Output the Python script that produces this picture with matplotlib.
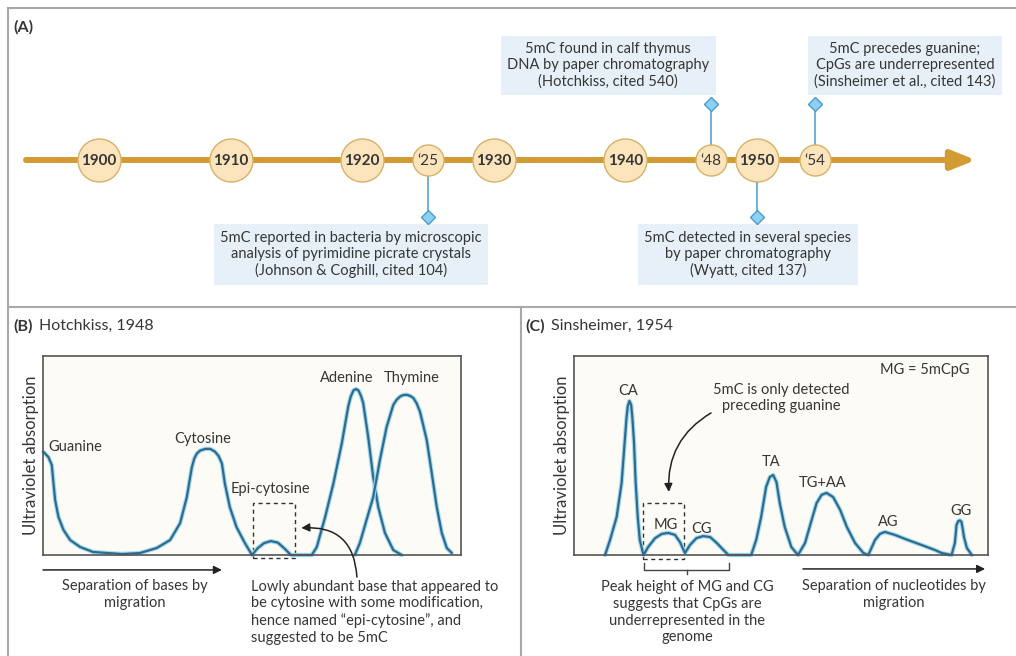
import matplotlib
matplotlib.use("Agg")
import matplotlib.pyplot as plt
from matplotlib.patches import Rectangle

plt.rcParams['font.family'] = ['Lato', 'DejaVu Sans']

TXT = '#363636'
GOLD = '#D29B34'
CURVE = '#2C6C8E'
FS = 10.5

# ---- timeline data ----
decades = [1900, 1910, 1920, 1930, 1940, 1950]
event_years = [1925, 1948, 1950, 1954]
event_tags = ['\u201825', '\u201848', None, '\u201854']
event_text = [
    "5mC reported in bacteria by microscopic\nanalysis of pyrimidine picrate crystals\n(Johnson & Coghill, cited 104)",
    "5mC found in calf thymus\nDNA by paper chromatography\n(Hotchkiss, cited 540)",
    "5mC detected in several species\nby paper chromatography\n(Wyatt, cited 137)",
    "5mC precedes guanine;\nCpGs are underrepresented\n(Sinsheimer et al., cited 143)",
]
event_below = [True, False, True, False]

# ---- (B) Hotchkiss 1948 chromatogram (relative units) ----
hot_x = [0.1, 1.3, 2.1, 2.5, 2.9, 3.7, 4.9, 6.5, 8.9, 12, 19, 23.2, 27.2, 30.4,
         32.8, 34.4, 35.6, 36.2, 36.8, 37.6, 38.8, 40.0, 41.1, 42.0, 42.8, 43.5,
         44.7, 46.3, 48.3, 50.0,
         51.4, 52.9, 54.5, 56.2, 57.9, 59.3, 64.3, 65.5, 67.5, 69.5, 71.5, 73.0,
         73.6, 74.3, 74.9, 75.5, 76.1, 76.6, 77.8, 79.0, 80.2, 81.8, 83.8, 85.8]
hot_y = [51.8, 49.2, 45.2, 36.2, 27.6, 19.1, 12.6, 7.5, 4, 1.5, 0.5, 1, 3.5, 7.5,
         16, 29, 44, 48.5, 51, 52.5, 53.3, 53.3, 52, 49.8, 46, 36,
         24, 14, 6, 0,
         3.5, 6.0, 7.0, 6.2, 3.0, 0, 0, 4, 19.1, 36.2, 56.3, 74.4,
         79.5, 82.8, 83.4, 82.6, 79.8, 76.4, 59.3, 39.2, 24.1, 11.1, 2.5, 0]
thy_x = [74.6, 75.8, 77.4, 79.0, 80.6, 82.2, 83.8, 84.6, 85.4, 86.2, 87.0, 87.8,
         88.6, 89.4, 90.2, 91.8, 93.0, 94.2, 95.4, 96.6, 97.8]
thy_y = [0, 6, 17.6, 29.1, 47.7, 64.3, 75.4, 78.0, 79.6, 80.4, 80.5, 80.0,
         78.9, 76.2, 71.9, 57.8, 41.2, 24.1, 11.1, 3.5, 1]
hot_names = ['Guanine', 'Cytosine', 'Epi-cytosine', 'Adenine', 'Thymine']

# ---- (C) Sinsheimer 1954 chromatogram ----
sin_x = [7.5, 8.7, 10.3, 11.5, 12.1, 12.7, 13.0, 13.4, 13.8, 14.1, 14.5, 14.9,
         15.4, 15.9, 16.6, 16.8, 17.9, 19.6, 21.2, 22.8, 24.4, 25.6, 26.8, 28.0,
         29.6, 31.2, 32.9, 34.5, 36.1, 37.3, 42.8, 44.0, 45.2, 46.4, 47.3, 48.1,
         48.9, 49.7, 50.9, 52.5, 54.1, 55.8, 57.4, 58.6, 59.8, 61.0, 62.6, 64.3,
         65.9, 67.9, 69.9, 71.1, 72.7, 73.9, 75.1, 77.5, 80.7, 84.0, 87.2, 88.8,
         91.2, 92.0, 92.4, 92.8, 93.2, 93.6, 93.9, 94.2, 94.9, 96.1]
sin_y = [0, 7.5, 19.1, 36.2, 52.8, 69.3, 75.0, 77.4, 75.5, 69.0, 56.3, 36.2,
         19.1, 7.5, 1.5, 0, 4, 8.5, 10.6, 11.1, 10.1, 6.5, 1, 5,
         8.5, 9.5, 9, 6, 2.5, 0, 0, 7.5, 19.1, 34.2, 39.2, 40.2,
         36.7, 26.1, 14.1, 4, 0, 6, 17.6, 26.1, 30.2, 31.2, 29.1, 22.6,
         14.1, 6, 1, 0, 7.5, 10.6, 11.6, 10.1, 7.5, 5, 2.5, 1,
         0, 6, 15.1, 17.0, 17.4, 16.6, 13, 9, 3.5, 0]
sin_names = ['CA', 'MG', 'CG', 'TA', 'TG+AA', 'AG', 'GG']

W, H = 1016, 656
fig = plt.figure(figsize=(W / 100, H / 100), dpi=100)

# frame / headings in pixel space
frame = fig.add_axes([0, 0, 1, 1])
frame.set_xlim(0, W)
frame.set_ylim(H, 0)
frame.axis('off')
fc = '#A8A8A8'
frame.plot([8, W], [8, 8], color=fc, lw=1.5)
frame.plot([8, 8], [8, H], color=fc, lw=1.5)
frame.plot([8, W], [307, 307], color=fc, lw=1.5)
frame.plot([521, 521], [307, H], color=fc, lw=1.5)
frame.text(13, 27, '(A)', fontsize=11.5, fontweight='bold', color=TXT, va='center')
frame.text(13, 326, '(B)', fontsize=11.5, fontweight='bold', color=TXT, va='center')
frame.text(39, 326, 'Hotchkiss, 1948', fontsize=11.5, color=TXT, va='center')
frame.text(525, 326, '(C)', fontsize=11.5, fontweight='bold', color=TXT, va='center')
frame.text(551, 326, 'Sinsheimer, 1954', fontsize=11.5, color=TXT, va='center')

# ---- (A) timeline, x in years ----
ppy = 13.16
y0 = 1900 - 99 / ppy
tl = fig.add_axes([0, 0, 1, 1])
tl.set_xlim(y0, y0 + W / ppy)
tl.set_ylim(H, 0)
tl.axis('off')
tl.patch.set_alpha(0)

tl.annotate('', xy=(y0 + 976 / ppy, 160), xytext=(y0 + 26 / ppy, 160),
            arrowprops=dict(arrowstyle='-|>,head_length=0.58,head_width=0.23',
                            color=GOLD, lw=4.3, mutation_scale=25,
                            shrinkA=0, shrinkB=0))

# tag nudges / box shifts are layout only (in years)
tag_nudge = [0, -1.5, 0, 0.4]
box_shift = [-5.85, -7.8, -0.7, 6.85]

tl.scatter(decades, [160] * len(decades), s=960, color='#FCE5BC',
           edgecolor='#D8B068', lw=1, zorder=3)
for d in decades:
    tl.text(d, 161, str(d), ha='center', va='center', fontsize=11,
            fontweight='bold', color=TXT, zorder=4)

for yr, tag, txt, below, dn, dbox in zip(event_years, event_tags, event_text,
                                         event_below, tag_nudge, box_shift):
    x = yr + dn
    r = 15.5 if tag else 21.5
    if tag:
        tl.scatter([x], [160], s=500, color='#FCE5BC', edgecolor='#D8B068',
                   lw=1, zorder=3)
        tl.text(x, 161, tag, ha='center', va='center', fontsize=11,
                color=TXT, zorder=4)
    sgn = 1 if below else -1
    dy = 217 if below else 104
    tl.plot([x, x], [160 + sgn * r, dy], color='#68A8D0', lw=1.3, zorder=2)
    tl.plot([x], [dy], marker='D', ms=7, mfc='#8ED0F0', mec='#4A9BD0',
            mew=1, zorder=4)
    by = 254.5 if below else 65.5
    tl.text(x + dbox, by, txt, ha='center', va='center', fontsize=FS,
            color=TXT, linespacing=1.2,
            bbox=dict(boxstyle='square,pad=0.45', fc='#E7F0F8', ec='none'))


def chrom_axes(left, width):
    ax = fig.add_axes([left / W, (H - 555) / H, width / W, 199 / H])
    ax.set_xlim(0, 100)
    ax.set_ylim(0, 100)
    ax.set_facecolor('#FDFBF5')
    ax.set_xticks([])
    ax.set_yticks([])
    for s in ax.spines.values():
        s.set_color('#555555')
        s.set_linewidth(1.2)
    ax.set_ylabel('Ultraviolet absorption', fontsize=12, color=TXT,
                  labelpad=3)
    return ax


def trace(ax, xs, ys):
    ax.plot(xs, ys, color='#A9D9EF', lw=3.2, solid_joinstyle='round',
            solid_capstyle='round', clip_on=False)
    ax.plot(xs, ys, color=CURVE, lw=1.6, solid_joinstyle='round',
            solid_capstyle='round', clip_on=False)


arrow_kw = dict(arrowstyle='-|>', color='#222222', lw=1.1, mutation_scale=12,
                shrinkA=0, shrinkB=0)

# ---- (B) ----
axb = chrom_axes(43, 418)
trace(axb, hot_x, hot_y)
trace(axb, thy_x, thy_y)
hb_pos = [(1.2, 54.3, 'left'), (38.3, 58.3, 'center'), (54.5, 33.2, 'center'),
          (72.7, 88.9, 'center'), (88.3, 88.9, 'center')]
for name, (x, y, ha) in zip(hot_names, hb_pos):
    axb.text(x, y, name, ha=ha, va='center', fontsize=FS, color=TXT)
axb.add_patch(Rectangle((50.2, -1.5), 10.1, 27.6, fill=False, ls=(0, (3, 2.5)),
                        lw=1, ec='#333333', clip_on=False))
axb.annotate('', xy=(61.8, 13.6), xytext=(75.1, -11.1),
             arrowprops=dict(connectionstyle='arc3,rad=0.5', **arrow_kw),
             annotation_clip=False)
axb.annotate('', xy=(42.8, -7.5), xytext=(0, -7.5), arrowprops=arrow_kw,
             annotation_clip=False)
axb.text(22, -19.8, 'Separation of bases by\nmigration', ha='center', va='center',
         fontsize=FS, color=TXT, linespacing=1.25, clip_on=False)
axb.text(49.8, -28.8, 'Lowly abundant base that appeared to\n'
         'be cytosine with some modification,\n'
         'hence named \u201cepi-cytosine\u201d, and\nsuggested to be 5mC',
         ha='left', va='center', fontsize=FS, color=TXT, linespacing=1.25,
         clip_on=False)

# ---- (C) ----
axc = chrom_axes(574, 414)
trace(axc, sin_x, sin_y)
sc_pos = [(13.0, 82.4), (22.2, 15.1), (30.9, 13.1), (47.6, 46.7), (60.1, 36.2),
          (75.8, 16.6), (93.5, 22.1)]
for name, (x, y) in zip(sin_names, sc_pos):
    axc.text(x, y, name, ha='center', va='center', fontsize=FS, color=TXT)
axc.text(84.8, 93.0, 'MG = 5mCpG', ha='center', va='center', fontsize=FS,
         color=TXT)
axc.text(50.0, 78.9, '5mC is only detected\npreceding guanine', ha='center',
         va='center', fontsize=FS, color=TXT, linespacing=1.25)
axc.annotate('', xy=(22.9, 31.7), xytext=(33.1, 71.4),
             arrowprops=dict(connectionstyle='arc3,rad=0.3', **arrow_kw),
             annotation_clip=False)
axc.add_patch(Rectangle((16.7, -2), 9.9, 28.1, fill=False, ls=(0, (3, 2.5)),
                        lw=1, ec='#333333', clip_on=False))
axc.plot([16.9, 16.9, 37.4, 37.4], [-4, -7.5, -7.5, -4], color='#444444',
         lw=1, clip_on=False)
axc.plot([27.3, 27.3], [-7.5, -9.5], color='#444444', lw=1, clip_on=False)
axc.text(27.3, -28.8, 'Peak height of MG and CG\nsuggests that CpGs are\n'
         'underrepresented in the\ngenome', ha='center', va='center',
         fontsize=FS, color=TXT, linespacing=1.25, clip_on=False)
axc.annotate('', xy=(99.3, -7.0), xytext=(55.3, -7.0), arrowprops=arrow_kw,
             annotation_clip=False)
axc.text(77.3, -19.8, 'Separation of nucleotides by\nmigration', ha='center',
         va='center', fontsize=FS, color=TXT, linespacing=1.25, clip_on=False)

fig.savefig('out.png', dpi=100, facecolor='white')
